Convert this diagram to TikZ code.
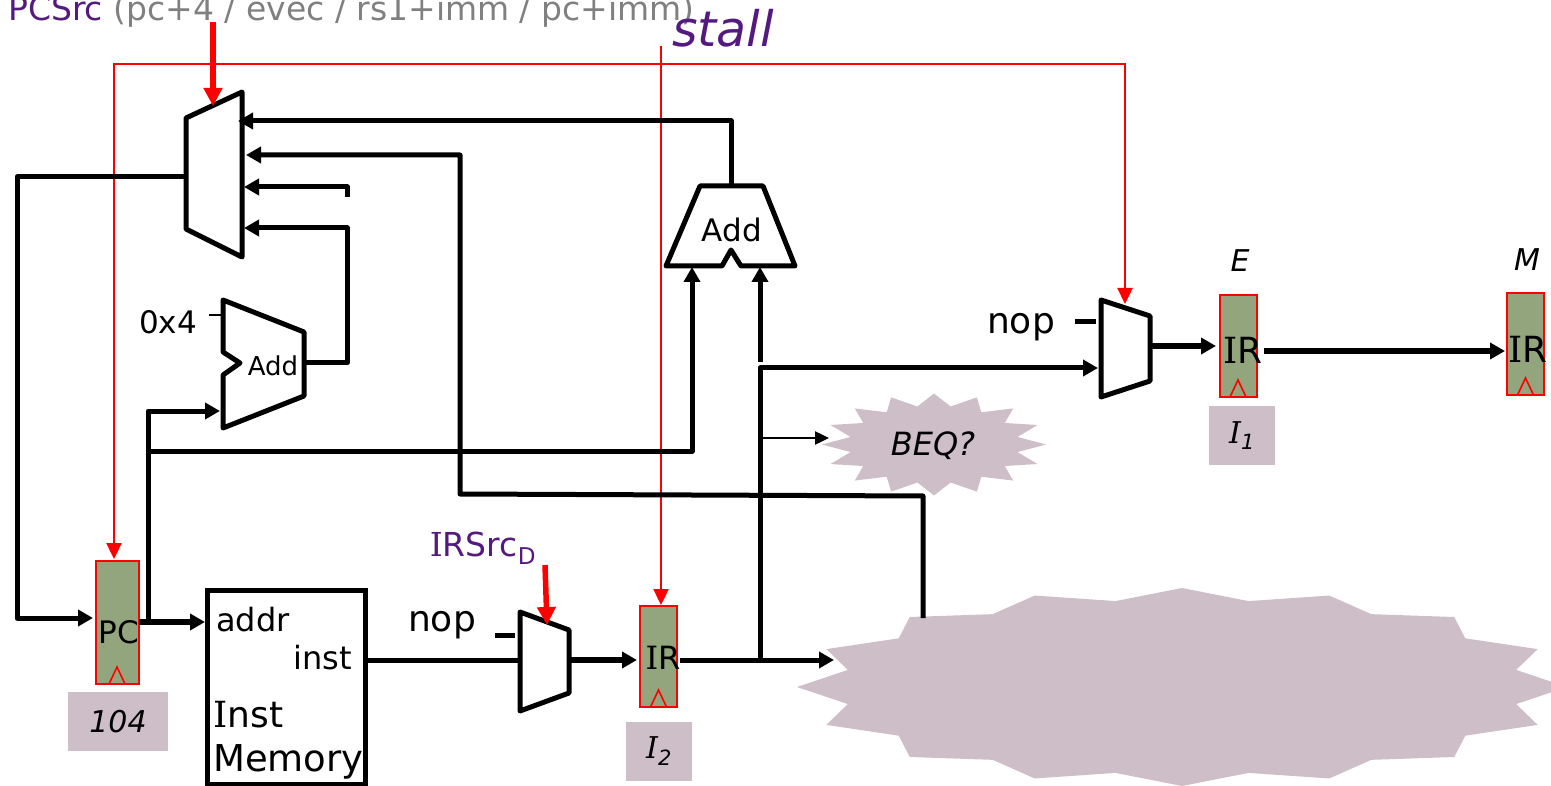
\documentclass[tikz,border=0pt]{standalone}
\usepackage{fontspec}
\setmainfont{DejaVu Sans}
\newfontfamily\slabfont{DejaVu Serif}
\newcommand{\slabI}{{\slabfont I}}
\usetikzlibrary{arrows.meta}
\definecolor{regfill}{HTML}{93A57D}
\definecolor{tagfill}{HTML}{CEBEC8}
\definecolor{ctrlpurple}{HTML}{551A80}
\tikzset{
  sz/.style={font=\fontsize{#1}{#1}\selectfont, inner sep=0pt},
  szit/.style={font=\fontsize{#1}{#1}\selectfont\itshape, inner sep=0pt},
  wire/.style={line width=5pt, line join=round},
  tip/.style={-{Triangle[length=15pt,width=16pt]}},
  ctrl/.style={red, line width=2.4pt, -{Triangle[length=16pt,width=15pt]}},
  ctrlthick/.style={red, line width=5.5pt, -{Triangle[length=18pt,width=18pt]}},
  blockshape/.style={draw=black, fill=white, line width=5pt, line join=round},
  regbox/.style={draw=red, fill=regfill, line width=2pt, inner sep=0pt},
  clockmark/.style={red, line width=1.6pt},
  tagbox/.style={fill=tagfill, inner sep=0pt, font=\fontsize{30}{30}\selectfont\itshape},
}
\begin{document}
\begin{tikzpicture}[x=1pt,y=-1pt]
\useasboundingbox (0,0) rectangle (1551,786);

% Clouds
\foreach \cx/\cy/\rx/\ry/\rr in {934/444.5/112/51/0.76, 1182/687/385/99/0.885}
  \fill[tagfill] plot[samples at={0,1,...,31}]
    ({\cx+\rx*(mod(\x,2)==0 ? 1 : \rr)*sin(\x*11.25)},
     {\cy-\ry*(mod(\x,2)==0 ? 1 : \rr)*cos(\x*11.25)}) -- cycle;
\node[szit=32] (beq) at (933,446) {BEQ?};

% Registers
\node[regbox,minimum width=43pt,minimum height=123pt] (pc) at (117,622.5) {};
\node[regbox,minimum width=37pt,minimum height=101pt] (irD) at (658.5,656.5) {};
\node[regbox,minimum width=37pt,minimum height=102pt] (irE) at (1238,346) {};
\node[regbox,minimum width=37pt,minimum height=102pt] (irM) at (1525.5,344) {};
\foreach \rg in {pc, irD, irE, irM}
  \draw[clockmark] ([xshift=-8pt,yshift=1pt]\rg.south) -- ([yshift=18pt]\rg.south) -- ([xshift=8pt,yshift=1pt]\rg.south);

% Tags under the registers
\node[tagbox,minimum width=100pt,minimum height=59pt] (tagPC) at (118,721.5) {\raisebox{-2pt}{104}};
\node[tagbox,minimum width=66pt,minimum height=59pt] (tagD) at (659,751.5) {\raisebox{-4pt}{\slabI\textsubscript{2}}};
\node[tagbox,minimum width=66pt,minimum height=59pt] (tagE) at (1242,435.5) {\raisebox{-3pt}{\slabI\textsubscript{1}}};

% Inst memory
\node[draw,line width=5pt,minimum width=158pt,minimum height=194pt,inner sep=0pt] (imem) at (286,687) {};

% Muxes and adders
\draw[blockshape] (186,118) -- (242,92) -- (242,257) -- (186,229) -- cycle;
\draw[blockshape] (223,300) -- (304,332) -- (304,396) -- (223,428) -- (223,375) -- (240,363) -- (223,352) -- cycle;
\draw[blockshape] (666,266) -- (700,186) -- (763,186) -- (795,266) -- (741,266) -- (731,250) -- (722,266) -- cycle;
\draw[blockshape] (520,612) -- (569,630) -- (569,693) -- (520,711) -- cycle;
\draw[blockshape] (1101,300) -- (1150,316) -- (1150,381) -- (1101,397) -- cycle;

% Connector ends
\coordinate (pcmuxOut) at (186,177);
\coordinate (pcmuxA) at (238,121);
\coordinate (pcmuxB) at (246,155);
\coordinate (pcmuxC) at (244,187);
\coordinate (pcmuxD) at (244,228);
\coordinate (addTop) at (731,186);
\coordinate (addL) at (692,267);
\coordinate (addR) at (760,267);
\coordinate (incOut) at (304,363);
\coordinate (incIn) at (220,411);
\coordinate (stub) at (347,197);
\coordinate (pcOut) at (139,622);
\coordinate (imemIn) at (205,622);
\coordinate (instOut) at (366,660);
\coordinate (dmuxIn) at (520,660);
\coordinate (dmuxOut) at (569,660);
\coordinate (irDIn) at (637,660);
\coordinate (irDOut) at (680,660);
\coordinate (split) at (760,660);
\coordinate (cloudIn) at (834,660);
\coordinate (cloudUp) at (923,618);
\coordinate (emuxIn) at (1098,368);
\coordinate (emuxOut) at (1150,346);
\coordinate (irEIn) at (1216,346);
\coordinate (irEOut) at (1264,351);
\coordinate (irMIn) at (1505,351);
\coordinate (beqIn) at (829,438);

% Control lines
\coordinate (stallTop) at (661,46);
\draw[ctrl] (stallTop) -- (irD.north -| stallTop);
\draw[ctrl,{Triangle[length=16pt,width=15pt]}-{Triangle[length=16pt,width=15pt]}] (114,559) -- (114,64) -- (1125,64) -- (1125,304);

% Next pc
\draw[wire,tip] (pcmuxOut) -- (17,177) -- (17,618) -- (93,618);
\draw[wire,tip] (addTop) -- (731,121) -- (pcmuxA);
\draw[wire,tip] (cloudUp) -- (923,496) -- (460,494) -- (460,155) -- (pcmuxB);
\draw[wire,tip] (stub) -- (347,187) -- (pcmuxC);
\draw[wire,tip] (incOut) -- (347,363) -- (347,228) -- (pcmuxD);

% Fetch
\draw[wire,line width=6pt,tip] (pcOut) -- (imemIn);
\draw[wire,tip] (148,622) -- (148,411) -- (incIn);
\draw[wire,tip] (148,451) -- (692,451) -- (addL);
\draw[wire,tip] (760,362) -- (addR);
\draw[wire] (instOut) -- (dmuxIn);
\draw[wire,line width=6pt,tip] (dmuxOut) -- (irDIn);
\draw[wire,tip] (irDOut) -- (cloudIn);
\draw[wire,tip] (split) -- (760,368) -- (emuxIn);
\draw[line width=2.4pt,-{Triangle[length=14pt,width=13pt]}] (762,438) -- (beqIn);

% Execute
\draw[wire,line width=5.5pt,tip] (emuxOut) -- (irEIn);
\draw[wire,line width=5.5pt,tip] (irEOut) -- (irMIn);

% Constant ticks
\coordinate (incTick) at (223,315);
\draw[line width=2.5pt] (209,315) -- (incTick);
\coordinate (dTick) at (515,635);
\draw[wire] (495,635) -- (dTick);
\coordinate (eTick) at (1096,322);
\draw[wire] (1075,322) -- (eTick);

% Thick red selects
\coordinate (pcsrcTop) at (213,22);
\coordinate (pcsrcEnd) at (213,106);
\draw[ctrlthick] (pcsrcTop) -- (pcsrcEnd);
\coordinate (irsrcTop) at (545,565);
\coordinate (irsrcEnd) at (547,625);
\draw[ctrlthick] (irsrcTop) -- (irsrcEnd);

% Labels
\node[sz=33,anchor=base west] (pcsrcLbl) at (8,21) {\textcolor{ctrlpurple}{PCSrc} \textcolor{gray}{(pc+4 / evec / rs1+imm / pc+imm)}};
\node[szit=49,text=ctrlpurple] (stallLbl) at (723,28) {stall};
\node[sz=33,text=ctrlpurple] (irsrcLbl) at (483,548) {\slabI RSrc\textsubscript{D}};
\node[sz=31] (addBig) at (732,230) {Add};
\node[sz=26] (addSmall) at (273,366) {Add};
\node[sz=31] (constFour) at (168,322) {0x4};
\node[sz=36] (nopD) at (442,625) {nop};
\node[sz=36] (nopE) at (1021,327) {nop};
\node[sz=31] (pcLbl) at (119,632) {PC};
\node[sz=32] (irDLbl) at (663,658) {\slabI R};
\node[sz=36] (irELbl) at (1243,350) {\slabI R};
\node[sz=36] (irMLbl) at (1528,349) {\slabI R};
\node[szit=30] (stageE) at (1240,261) {E};
\node[szit=30] (stageM) at (1527,260) {M};
\node[sz=32,anchor=west] (addrLbl) at (216,620) {addr};
\node[sz=32] (instLbl) at (323,658) {inst};
\node[sz=36,anchor=west] (memA) at (213,715) {\slabI nst};
\node[sz=37,anchor=west] (memB) at (213,762) {Memory};
\end{tikzpicture}
\end{document}
